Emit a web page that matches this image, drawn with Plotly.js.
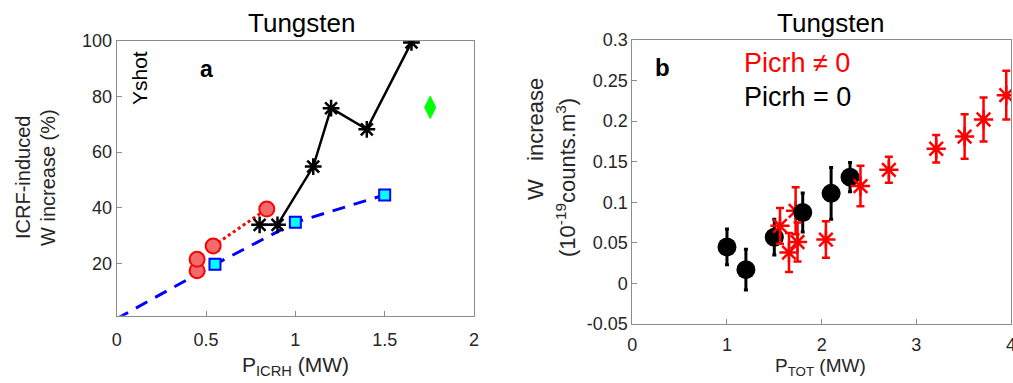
<!DOCTYPE html>
<html>
<head>
<meta charset="utf-8">
<script src="https://cdn.plot.ly/plotly-3.0.1.min.js"></script>
<style>html,body{margin:0;padding:0;background:#fff;}#chart{width:1013px;height:383px;}</style>
</head>
<body>
<div id="chart"></div>
<script>
// ---------- Panel a data ----------
const aFitX = [0, 0.55, 1.0, 1.5];
const aFitY = [0, 19.6, 34.7, 44.6];
const aSqX = [0.55, 1.0, 1.5];
const aSqY = [19.6, 34.7, 44.6];
const aCircX = [0.45, 0.45, 0.54, 0.84];
const aCircY = [17.3, 21.4, 26.2, 39.5];
const aDotX = [0.54, 0.84];
const aDotY = [26.2, 39.5];
const aStarX = [0.8, 0.9, 1.1, 1.2, 1.4, 1.65];
const aStarY = [33.8, 33.8, 54.8, 75.8, 68.2, 99.5];
const aDiaX = [1.755];
const aDiaY = [76.1];
const aXTicks = [0, 0.5, 1, 1.5, 2];
const aXTickText = ['0', '0.5', '1', '1.5', '2'];
const aYTicks = [20, 40, 60, 80, 100];
const aYTickText = ['20', '40', '60', '80', '100'];

// ---------- Panel b data ----------
const bBlackX = [1.0, 1.2, 1.5, 1.8, 2.1, 2.3];
const bBlackY = [0.045, 0.017, 0.057, 0.0875, 0.111, 0.131];
const bBlackErr = [0.022, 0.025, 0.022, 0.024, 0.032, 0.018];
const bRedX = [1.56, 1.655, 1.725, 1.745, 2.045, 2.41, 2.71, 3.21, 3.51, 3.71, 3.95];
const bRedY = [0.071, 0.038, 0.0895, 0.051, 0.054, 0.12, 0.14, 0.166, 0.181, 0.202, 0.232];
const bRedErr = [0.022, 0.024, 0.029, 0.024, 0.0225, 0.025, 0.016, 0.017, 0.0275, 0.027, 0.03];
const bRedBehind = [2]; // index of the star partly hidden by a black circle
const bXTicks = [0, 1, 2, 3, 4];
const bXTickText = ['0', '1', '2', '3', '4'];
const bYTicks = [-0.05, 0, 0.05, 0.1, 0.15, 0.2, 0.25, 0.3];
const bYTickText = ['-0.05', '0', '0.05', '0.1', '0.15', '0.2', '0.25', '0.3'];

const W = 1013, H = 383;
const px = v => v / W;
const py = v => 1 - v / H;
const FONT = 'Liberation Sans, Arial, sans-serif';
const TXT = '#262626';
const AX = '#8c8c8c';

const pick = (arr, idx) => idx.map(i => arr[i]);
const allIdx = bRedX.map((_, i) => i);
const frontIdx = allIdx.filter(i => !bRedBehind.includes(i));

const redStar = (idx) => ({
  x: pick(bRedX, idx), y: pick(bRedY, idx), xaxis: 'x2', yaxis: 'y2',
  type: 'scatter', mode: 'markers',
  marker: {symbol: 'asterisk-open', size: 16, line: {color: '#ff0000', width: 2.5}, color: '#ff0000'},
  error_y: {type: 'data', array: pick(bRedErr, idx), visible: true, color: '#ff0000', thickness: 2.5, width: 4},
  showlegend: false, hoverinfo: 'skip'
});

const traces = [
  // panel a
  {x: aFitX, y: aFitY, type: 'scatter', mode: 'lines', line: {color: '#0000ff', width: 3, dash: '13px,9px'}, showlegend: false},
  {x: aDotX, y: aDotY, type: 'scatter', mode: 'lines', line: {color: '#ff0000', width: 3, dash: 'dot'}, showlegend: false},
  {x: aStarX, y: aStarY, type: 'scatter', mode: 'lines+markers', line: {color: '#000000', width: 2.5},
   marker: {symbol: 'asterisk-open', size: 14, line: {color: '#000000', width: 2.5}}, showlegend: false},
  {x: aCircX, y: aCircY, type: 'scatter', mode: 'markers',
   marker: {symbol: 'circle', size: 15, color: '#f26b6b', line: {color: '#ff0000', width: 2}}, showlegend: false},
  {x: aSqX, y: aSqY, type: 'scatter', mode: 'markers',
   marker: {symbol: 'square', size: 11, color: '#00ffff', line: {color: '#0000ff', width: 2}}, showlegend: false},
  {x: aDiaX, y: aDiaY, type: 'scatter', mode: 'markers',
   marker: {symbol: 'diamond-tall', size: 16, color: '#00ff00', line: {color: '#00ff00', width: 1}}, showlegend: false},
  // panel b
  redStar(bRedBehind),
  {x: bBlackX, y: bBlackY, xaxis: 'x2', yaxis: 'y2', type: 'scatter', mode: 'markers',
   marker: {symbol: 'circle', size: 19, color: '#000000'},
   error_y: {type: 'data', array: bBlackErr, visible: true, color: '#000000', thickness: 3, width: 2},
   showlegend: false},
  redStar(frontIdx)
];

const axisCommon = {
  showgrid: false, zeroline: false, showline: true, linecolor: AX, linewidth: 1, mirror: true,
  ticks: 'inside', ticklen: 5, tickcolor: AX, tickwidth: 1, tickmode: 'array',
  ticklabeloverflow: 'allow',
  tickfont: {family: FONT, size: 18, color: TXT}
};

const layout = {
  width: W, height: H,
  margin: {l: 0, r: 0, t: 0, b: 0},
  paper_bgcolor: '#ffffff', plot_bgcolor: '#ffffff',
  showlegend: false,
  xaxis: Object.assign({}, axisCommon, {domain: [px(116.7), px(474)], range: [0, 2], anchor: 'y',
    tickvals: aXTicks, ticktext: aXTickText, ticklabelstandoff: 8}),
  yaxis: Object.assign({}, axisCommon, {domain: [py(315.7), py(41)], range: [1.1, 100], anchor: 'x',
    tickvals: aYTicks, ticktext: aYTickText}),
  xaxis2: Object.assign({}, axisCommon, {domain: [px(632.3), px(1011)], range: [0, 4], anchor: 'y2',
    tickvals: bXTicks, ticktext: bXTickText, ticklabelstandoff: 4}),
  yaxis2: Object.assign({}, axisCommon, {domain: [py(324), py(40)], range: [-0.05, 0.3], anchor: 'x2',
    tickvals: bYTicks, ticktext: bYTickText}),
  annotations: [
    {text: 'Tungsten', x: px(301.7), y: py(23), xref: 'paper', yref: 'paper', showarrow: false,
     xanchor: 'center', yanchor: 'middle', font: {family: FONT, size: 26, color: '#000'}},
    {text: 'Tungsten', x: px(830), y: py(23), xref: 'paper', yref: 'paper', showarrow: false,
     xanchor: 'center', yanchor: 'middle', font: {family: FONT, size: 26, color: '#000'}},
    {text: 'ICRF-induced', x: px(23), y: py(178), xref: 'paper', yref: 'paper', showarrow: false, textangle: -90,
     xanchor: 'center', yanchor: 'middle', font: {family: FONT, size: 20, color: TXT}},
    {text: 'W increase (%)', x: px(48), y: py(178), xref: 'paper', yref: 'paper', showarrow: false, textangle: -90,
     xanchor: 'center', yanchor: 'middle', font: {family: FONT, size: 20, color: TXT}},
    {text: 'P<sub>ICRH</sub> (MW)', x: px(295), y: py(366), xref: 'paper', yref: 'paper', showarrow: false,
     xanchor: 'center', yanchor: 'middle', font: {family: FONT, size: 21, color: TXT}},
    {text: 'Yshot', x: px(139), y: py(78), xref: 'paper', yref: 'paper', showarrow: false, textangle: -90,
     xanchor: 'center', yanchor: 'middle', font: {family: FONT, size: 21, color: '#000'}},
    {text: '<b>a</b>', x: px(206), y: py(69), xref: 'paper', yref: 'paper', showarrow: false,
     xanchor: 'center', yanchor: 'middle', font: {family: FONT, size: 23, color: '#000'}},
    {text: '<b>b</b>', x: px(662), y: py(67), xref: 'paper', yref: 'paper', showarrow: false,
     xanchor: 'center', yanchor: 'middle', font: {family: FONT, size: 24, color: '#000'}},
    {text: 'Picrh \u2260 0', x: px(742), y: py(63), xref: 'paper', yref: 'paper', showarrow: false,
     xanchor: 'left', yanchor: 'middle', font: {family: FONT, size: 27, color: '#ff0000'}},
    {text: 'Picrh = 0', x: px(742), y: py(97), xref: 'paper', yref: 'paper', showarrow: false,
     xanchor: 'left', yanchor: 'middle', font: {family: FONT, size: 27, color: '#000'}},
    {text: 'W\u00a0\u00a0\u00a0increase', x: px(536), y: py(139), xref: 'paper', yref: 'paper', showarrow: false, textangle: -90,
     xanchor: 'center', yanchor: 'middle', font: {family: FONT, size: 22, color: TXT}},
    {text: '(10<sup>-19</sup>counts.m<sup>3</sup>)', x: px(566), y: py(178), xref: 'paper', yref: 'paper', showarrow: false, textangle: -90,
     xanchor: 'center', yanchor: 'middle', font: {family: FONT, size: 22, color: TXT}},
    {text: 'P<sub>TOT</sub> (MW)', x: px(820), y: py(367), xref: 'paper', yref: 'paper', showarrow: false,
     xanchor: 'center', yanchor: 'middle', font: {family: FONT, size: 19, color: TXT}}
  ]
};

Plotly.newPlot('chart', traces, layout, {displayModeBar: false, staticPlot: true});
</script>
</body>
</html>
